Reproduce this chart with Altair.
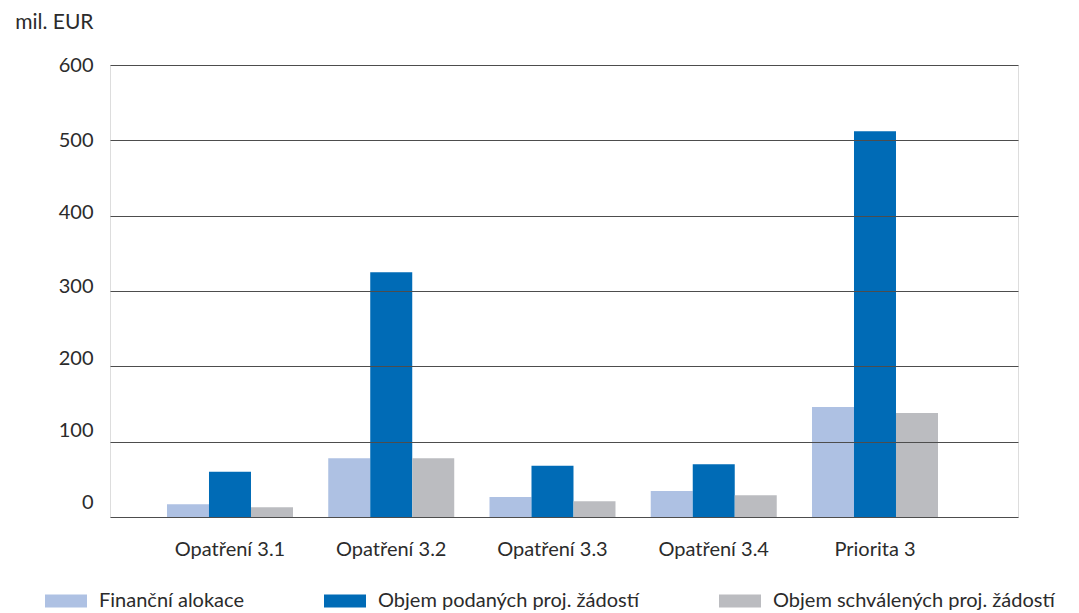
import altair as alt
import pandas as pd

categories = ["Opatření 3.1", "Opatření 3.2", "Opatření 3.3", "Opatření 3.4", "Priorita 3"]
series = ["Finanční alokace", "Objem podaných proj. žádostí", "Objem schválených proj. žádostí"]
financni = [17, 78, 26.5, 34.5, 146]
podane = [60, 325, 68, 70, 512]
schvalene = [13, 78, 21, 29, 138]
colors = ["#AEC1E3", "#006BB6", "#BBBCC0"]
y_ticks = [0, 100, 200, 300, 400, 500, 600]

rows = []
for i, c in enumerate(categories):
    for s, vals in zip(series, [financni, podane, schvalene]):
        rows.append({"kat": c, "serie": s, "hodnota": vals[i]})
df = pd.DataFrame(rows)

FONT = "Lato"
TXT = "#2b2b2b"

label_offset = {
    "condition": [
        {"test": "datum.value == 0", "value": -15},
        {"test": "datum.value == 100", "value": -11},
        {"test": "datum.value == 200", "value": -8},
        {"test": "datum.value == 300", "value": -5},
        {"test": "datum.value == 400", "value": -3},
    ],
    "value": 0,
}

chart = alt.Chart(df).mark_bar().encode(
    x=alt.X("kat:N", sort=categories,
            scale=alt.Scale(paddingInner=0.2186, paddingOuter=0.4248, align=0.416),
            axis=alt.Axis(title=None, labelAngle=0, domain=False, ticks=False,
                          labelPadding=22, labelFontSize=20, labelFont=FONT,
                          labelColor=TXT, labelBaseline="top")),
    xOffset=alt.XOffset("serie:N", sort=series,
                        scale=alt.Scale(paddingInner=0, paddingOuter=0)),
    y=alt.Y("hodnota:Q", scale=alt.Scale(domain=[0, 600], nice=False),
            axis=alt.Axis(values=y_ticks, title="mil. EUR", titleAngle=0,
                          titleX=-17, titleY=-43, titleAlign="right",
                          titleBaseline="middle", titleFontWeight="normal",
                          titleFontSize=21, titleFont=FONT, titleColor=TXT,
                          domain=False, ticks=False, labelPadding=17,
                          labelFontSize=20, labelFont=FONT, labelColor=TXT,
                          labelOffset=label_offset,
                          grid=True, gridColor="#4d4d4d", gridWidth=1.2,
                          zindex=1)),
    color=alt.Color("serie:N", sort=series,
                    scale=alt.Scale(domain=series, range=colors),
                    legend=alt.Legend(title=None, orient="none", legendX=-65,
                                      legendY=515, direction="horizontal",
                                      symbolType="M-1,-0.31H1V0.31H-1Z",
                                      symbolSize=1764, symbolStrokeWidth=0,
                                      symbolOpacity=1,
                                      labelFontSize=20, labelFont=FONT,
                                      labelColor=TXT, labelLimit=400,
                                      labelOffset=12, columnPadding=80)),
).properties(
    width=908, height=452,
    autosize=alt.AutoSizeParams(type="none"),
    padding={"left": 110, "top": 65, "right": 61, "bottom": 96},
).configure_view(strokeWidth=0, stroke="transparent").configure(background="white")

chart.save("out.html", embed_options={"renderer": "svg", "actions": False})
